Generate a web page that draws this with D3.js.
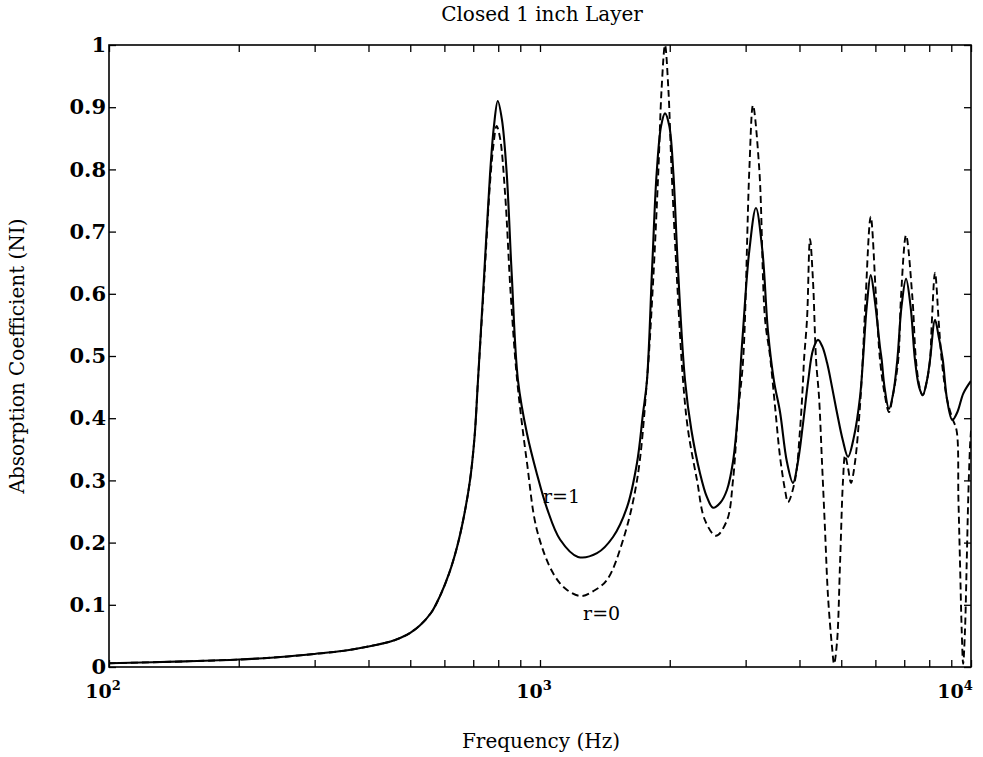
<!DOCTYPE html>
<html><head><meta charset="utf-8">
<script src="https://cdn.jsdelivr.net/npm/d3@7"></script>
<style>body{margin:0;background:#fff}svg{display:block}</style>
</head><body>
<svg id="chart" width="983" height="757"></svg>
<script>
const titleText = "Closed 1 inch Layer";
const xLabelText = "Frequency (Hz)";
const yLabelText = "Absorption Coefficient (NI)";
const yTicks = [0,0.1,0.2,0.3,0.4,0.5,0.6,0.7,0.8,0.9,1];
const yTickLabels = ["0","0.1","0.2","0.3","0.4","0.5","0.6","0.7","0.8","0.9","1"];
const xMajor = [100,1000,10000];
const xMajorExp = ["2","3","4"];
const xMinor = [200,300,400,500,600,700,800,900,2000,3000,4000,5000,6000,7000,8000,9000];

// r = 1 (solid)
const freqR1 = [100,150,200,250,300,350,400,450,475,500,527,560,586,615,642,665,688,705,718,742,766,782,798,816,837,860,889,933,984,1038,1113,1225,1356,1477,1592,1679,1734,1771,1820,1865,1910,1950,1995,2039,2090,2170,2245,2350,2440,2520,2620,2716,2804,2880,2927,2958,3060,3170,3280,3380,3490,3605,3740,3864,3967,4074,4190,4300,4416,4520,4635,4760,4890,5040,5184,5350,5527,5616,5730,5852,5980,6150,6205,6300,6452,6600,6746,6900,7068,7240,7413,7580,7726,7900,8035,8251,8420,8600,8800,9050,9300,9600,10000];
const absR1 = [0.006,0.009,0.012,0.016,0.021,0.026,0.033,0.041,0.047,0.055,0.067,0.088,0.114,0.15,0.193,0.24,0.30,0.37,0.461,0.63,0.794,0.87,0.91,0.88,0.794,0.63,0.461,0.375,0.31,0.255,0.205,0.177,0.183,0.209,0.257,0.328,0.408,0.461,0.64,0.794,0.87,0.89,0.87,0.794,0.64,0.461,0.381,0.312,0.273,0.256,0.264,0.285,0.33,0.41,0.494,0.54,0.67,0.738,0.67,0.54,0.46,0.41,0.33,0.296,0.33,0.39,0.46,0.51,0.526,0.515,0.489,0.45,0.408,0.365,0.338,0.37,0.434,0.494,0.58,0.63,0.59,0.514,0.494,0.45,0.415,0.44,0.494,0.58,0.624,0.58,0.494,0.45,0.437,0.46,0.494,0.558,0.53,0.494,0.43,0.397,0.41,0.44,0.46];

// r = 0 (dashed)
const freqR0 = [100,150,200,250,300,350,400,450,475,500,527,560,586,615,642,665,688,705,718,742,766,780,793,808,830,855,885,933,984,1072,1150,1245,1330,1430,1558,1679,1771,1830,1881,1915,1950,1985,2021,2080,2147,2205,2314,2414,2561,2716,2804,2880,2960,3060,3120,3227,3327,3417,3509,3605,3702,3762,3905,4011,4077,4098,4165,4231,4300,4370,4440,4512,4585,4659,4760,4812,4888,4968,5047,5103,5184,5267,5383,5527,5607,5697,5852,6020,6150,6300,6452,6600,6780,6880,7068,7310,7452,7600,7726,7900,8035,8110,8251,8420,8550,8800,9050,9260,9350,9430,9515,9590,9685,9773,9856,9947,10000];
const absR0 = [0.006,0.009,0.012,0.016,0.021,0.026,0.033,0.041,0.047,0.055,0.067,0.088,0.114,0.15,0.193,0.24,0.30,0.37,0.461,0.62,0.78,0.84,0.87,0.85,0.76,0.60,0.461,0.328,0.22,0.151,0.125,0.114,0.122,0.14,0.204,0.30,0.461,0.62,0.794,0.93,1.0,0.93,0.794,0.62,0.461,0.381,0.30,0.236,0.211,0.236,0.30,0.408,0.494,0.80,0.903,0.80,0.56,0.50,0.42,0.338,0.285,0.265,0.30,0.381,0.461,0.494,0.56,0.688,0.62,0.494,0.434,0.328,0.22,0.113,0.032,0.005,0.04,0.167,0.30,0.34,0.32,0.296,0.33,0.42,0.494,0.595,0.724,0.595,0.494,0.44,0.41,0.44,0.494,0.595,0.694,0.595,0.494,0.45,0.437,0.46,0.494,0.553,0.634,0.553,0.494,0.43,0.40,0.38,0.27,0.167,0.06,0.005,0.06,0.167,0.274,0.354,0.38];

const curveLabels = ["r=1","r=0"];
const curveLabelFreq = [1016,1259];
const curveLabelAbs = [0.264,0.076];

const svg = d3.select("#chart");
const L = 109, R = 971, T = 45, B = 667;
const x = d3.scaleLog().domain([100,10000]).range([L,R]);
const y = d3.scaleLinear().domain([0,1]).range([B,T]);
const serif = "'DejaVu Serif', 'Liberation Serif', serif";

svg.append("rect").attr("width",983).attr("height",757).attr("fill","#fff");

svg.append("defs").append("clipPath").attr("id","clip")
  .append("rect").attr("x",L).attr("y",T-1).attr("width",R-L).attr("height",B-T+1);

const line = d3.line().x(d=>x(d[0])).y(d=>y(d[1])).curve(d3.curveCatmullRom.alpha(0.5));
const g = svg.append("g").attr("clip-path","url(#clip)");
g.append("path").datum(d3.zip(freqR0,absR0)).attr("d",line)
  .attr("fill","none").attr("stroke","#000").attr("stroke-width",1.9).attr("stroke-dasharray","7,4");
g.append("path").datum(d3.zip(freqR1,absR1)).attr("d",line)
  .attr("fill","none").attr("stroke","#000").attr("stroke-width",2.1);

// axes (inward ticks)
const styleAxis = sel => { sel.select(".domain").remove(); sel.selectAll(".tick line").attr("stroke","#000").attr("stroke-width",1.3); };
svg.append("g").attr("transform",`translate(${L},0)`)
  .call(d3.axisLeft(y).tickValues(yTicks).tickSize(-7).tickPadding(3).tickFormat((d,i)=>yTickLabels[i]))
  .call(styleAxis)
  .selectAll("text").attr("font-family",serif).attr("font-weight","bold").attr("font-size",21).attr("fill","#000");
svg.append("g").attr("transform",`translate(${R},0)`)
  .call(d3.axisRight(y).tickValues(yTicks).tickSize(-7).tickFormat(""))
  .call(styleAxis);
svg.append("g").attr("transform",`translate(0,${B})`)
  .call(d3.axisBottom(x).tickValues(xMinor.concat(xMajor)).tickSize(-7).tickFormat(""))
  .call(styleAxis);
svg.append("g").attr("transform",`translate(0,${T})`)
  .call(d3.axisTop(x).tickValues(xMinor.concat(xMajor)).tickSize(-7).tickFormat(""))
  .call(styleAxis);

svg.append("rect").attr("x",L).attr("y",T).attr("width",R-L).attr("height",B-T)
  .attr("fill","none").attr("stroke","#000").attr("stroke-width",1.6);

// x major labels 10^n
const xLabOffset = [-6,-6,-16];
xMajor.forEach((v,i)=>{
  const t = svg.append("text").attr("x",x(v)+xLabOffset[i]).attr("y",698)
    .attr("text-anchor","middle").attr("font-family",serif).attr("font-weight","bold")
    .attr("font-size",19).attr("fill","#000");
  t.append("tspan").text("10");
  t.append("tspan").attr("font-size",13).attr("dy",-8).text(xMajorExp[i]);
});

svg.append("text").attr("x",(L+R)/2+2).attr("y",21).attr("text-anchor","middle")
  .attr("font-family",serif).attr("font-size",20).attr("fill","#000").text(titleText);
svg.append("text").attr("x",(L+R)/2+1).attr("y",748).attr("text-anchor","middle")
  .attr("font-family",serif).attr("font-size",20).attr("fill","#000").text(xLabelText);
svg.append("text").attr("transform","translate(24,356) rotate(-90)").attr("text-anchor","middle")
  .attr("font-family",serif).attr("font-size",20).attr("fill","#000").text(yLabelText);

curveLabels.forEach((s,i)=>{
  svg.append("text").attr("x",x(curveLabelFreq[i])).attr("y",y(curveLabelAbs[i]))
    .attr("font-family",serif).attr("font-size",19).attr("fill","#000").text(s);
});
</script>
</body></html>
